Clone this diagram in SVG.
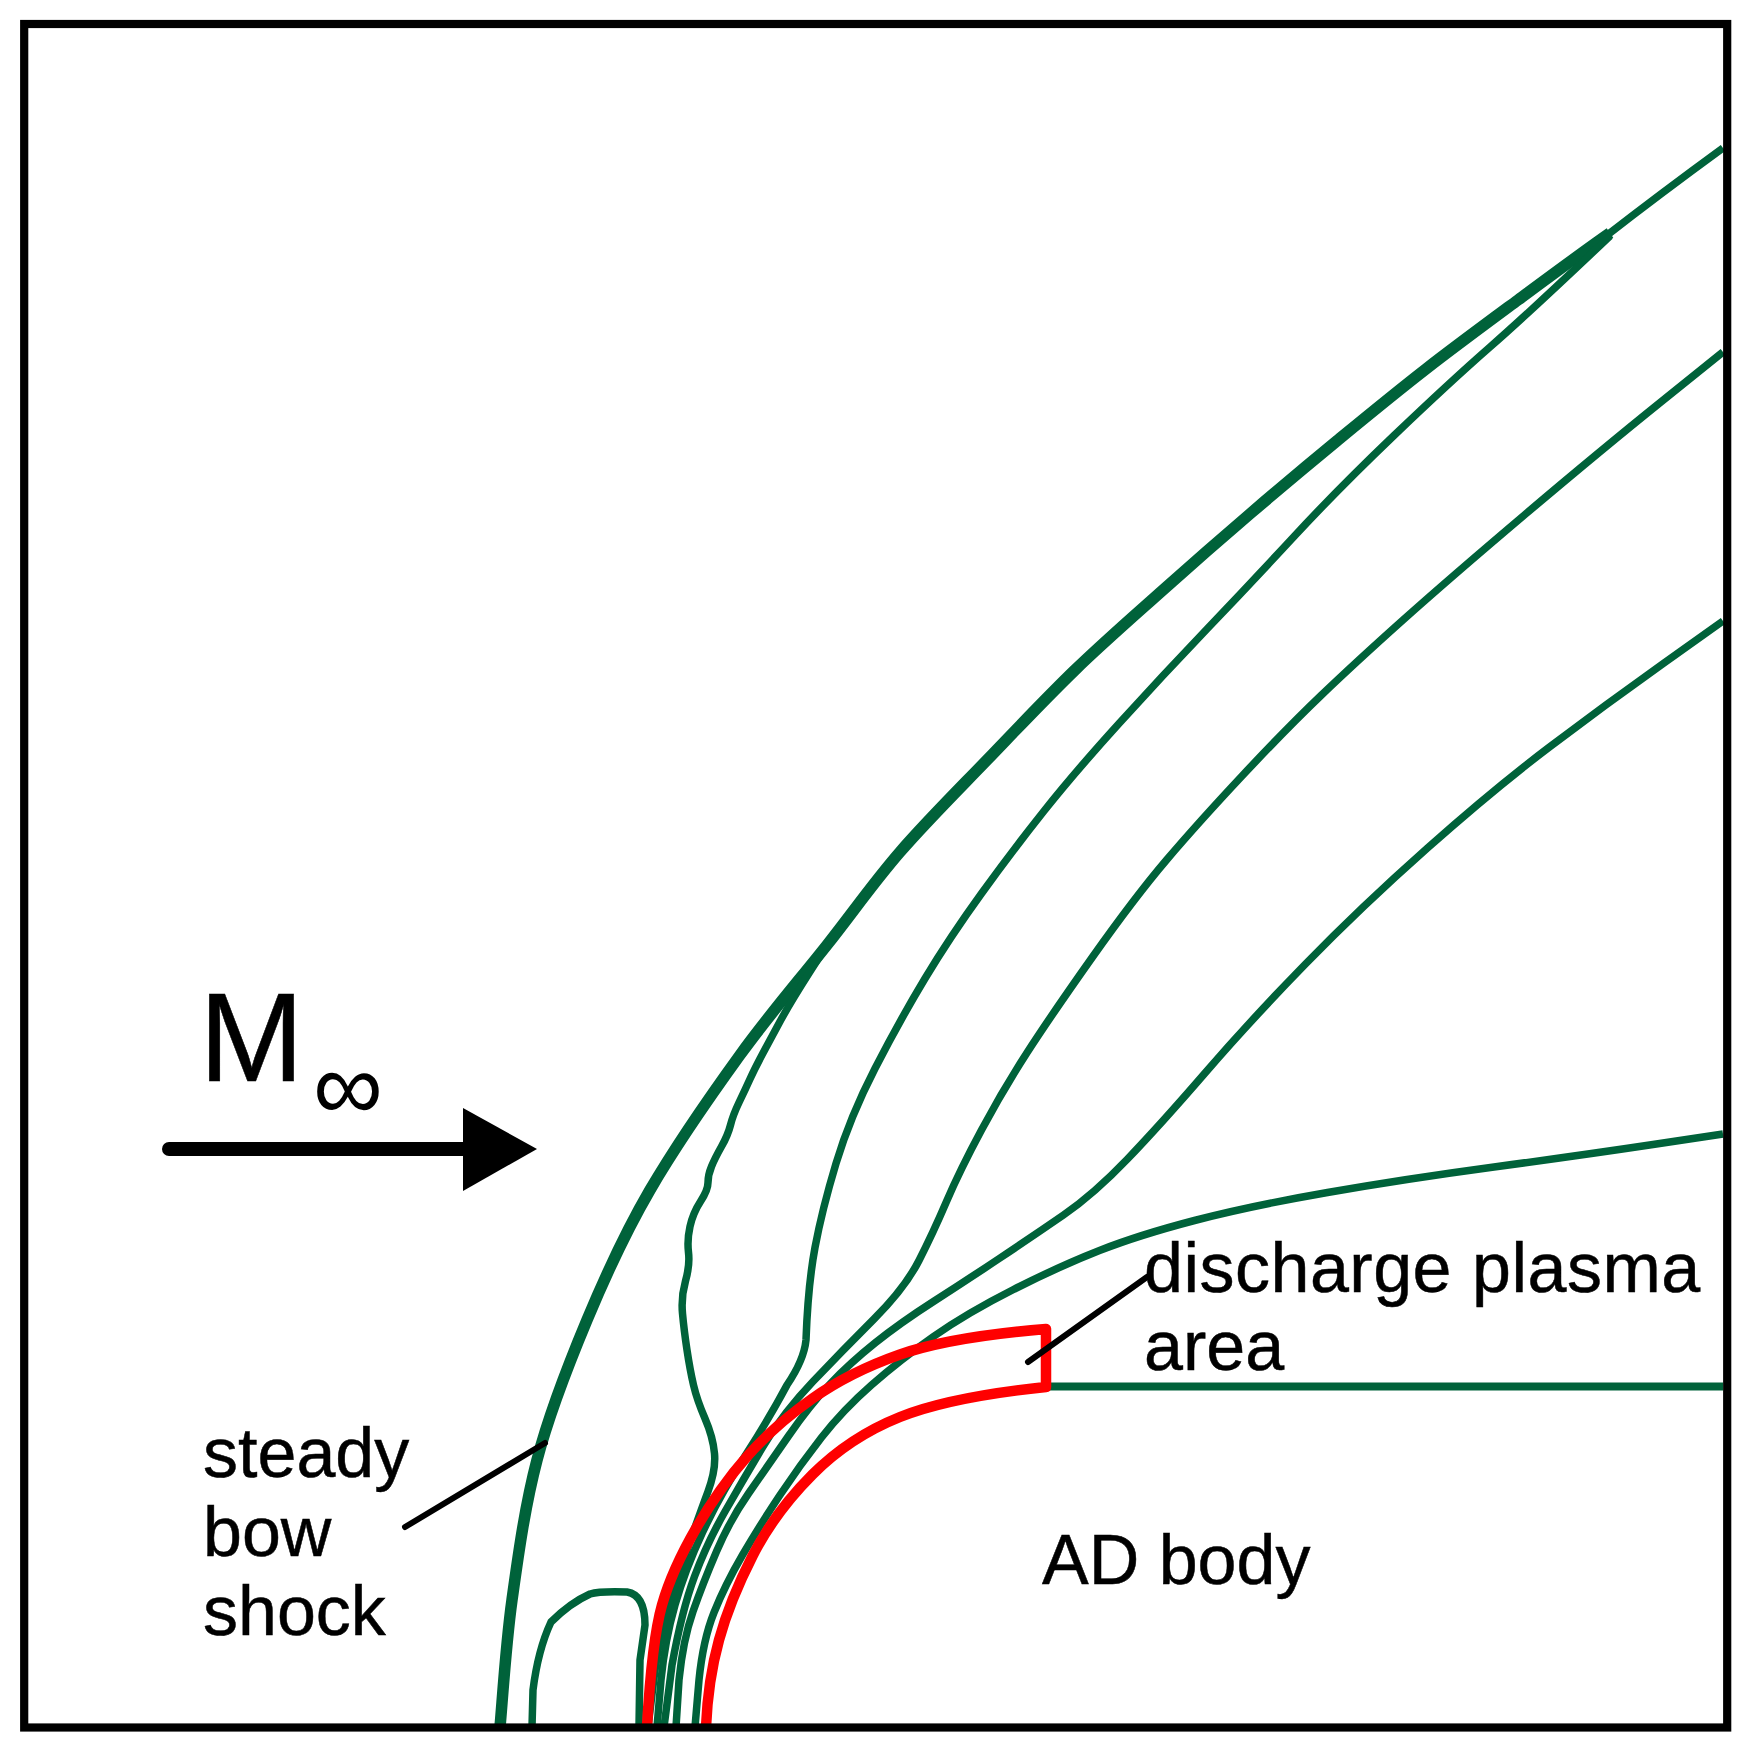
<svg xmlns="http://www.w3.org/2000/svg" width="1746" height="1753" viewBox="0 0 1746 1753">
<style>
.flow{fill:none;stroke:#00623a;stroke-width:7.5;stroke-linejoin:round}
.red{fill:none;stroke:#ff0000;stroke-width:10.5;stroke-linejoin:round}
.lead{fill:none;stroke:#000;stroke-width:6;stroke-linecap:round}
text{font-family:"Liberation Sans",Arial,sans-serif;fill:#000;stroke:#000;stroke-width:.5;font-size:70px}
</style>
<rect width="1746" height="1753" fill="#fff"/>
<g id="flow-lines">
<path id="shock" class="flow" style="stroke-width:11.5" d="M500,1727 C502,1706 505.8,1644.5 512,1600 C518.2,1555.5 524.8,1506.7 537,1460 C549.2,1413.3 568.2,1365 587,1320 C605.8,1275 624.2,1234.2 650,1190 C675.8,1145.8 710.5,1095.8 740,1055 C769.5,1014.2 800.3,978.8 827,945 C853.7,911.2 873.3,882.8 900,852 C926.7,821.2 957.8,790.3 987,760 C1016.2,729.7 1045.7,698.3 1075,670 C1104.3,641.7 1133.7,616.2 1163,590 C1192.3,563.8 1221.8,538 1251,513 C1280.2,488 1308.8,464 1338,440 C1367.2,416 1396,392.3 1426,369 C1456,345.7 1487.3,322.7 1518,300 C1548.7,277.3 1580,254 1610,233"/>
<path id="shock-end" class="flow" d="M1606,236 Q1660,194 1723,148"/>
<path id="line-a" class="flow" d="M1610,236 Q1530,312 1490,347 Q1450,382 1394,435.5 Q1338,489 1294.5,536 Q1251,583 1207,629 Q1163,675 1119,723.5 Q1075,772 1044,811 Q1013,850 981.5,893.5 Q950,937 925,978.5 Q900,1020 875,1068.5 Q850,1117 836,1163.5 Q822,1210 815,1247.5 Q808,1285 806,1340 Q804,1360 787,1385 Q770,1417 745,1456 Q720,1495 702.5,1532.5 Q685,1570 675,1605 Q665,1640 661,1680 L657,1727"/>
<path id="line-b" class="flow" d="M1723,352 L1661.5,401.5 Q1600,451 1525,514.5 Q1450,578 1403,620 Q1356,662 1321,695.5 Q1286,729 1242,776 Q1198,823 1166.5,860 Q1135,897 1092.5,957 Q1050,1017 1026.5,1053.5 Q1003,1090 981.5,1130 Q960,1170 946.5,1201.5 Q933,1233 919,1260.5 Q905,1288 874,1319 Q843,1350 813,1381.5 Q783,1413 763,1446.5 Q743,1480 725,1511.5 Q707,1543 694.5,1576.5 Q682,1610 672,1665 L664,1727"/>
<path id="line-c" class="flow" d="M1723,621 L1664,663 Q1605,705 1549.5,747 Q1494,789 1427.5,848 Q1361,907 1305.5,964 Q1250,1021 1205.5,1072.5 Q1161,1124 1127.5,1159 Q1094,1194 1063.5,1215 Q1033,1236 1000,1258 Q967,1280 933.5,1301.5 Q900,1323 875,1343 Q850,1363 830,1384 Q810,1405 788.5,1436 Q767,1467 748.5,1493.5 Q730,1520 716.5,1551.5 Q703,1583 693,1611.5 Q683,1640 679,1680 L676,1727"/>
<path id="line-d" class="flow" d="M1723,1134 L1653,1144.5 Q1583,1155 1494,1167 Q1405,1179 1327.5,1192.5 Q1250,1206 1194.5,1220.5 Q1139,1235 1099.5,1250.5 Q1060,1266 1013.5,1289.5 Q967,1313 933.5,1336.5 Q900,1360 871.5,1385 Q843,1410 821.5,1437.5 Q800,1465 780,1495 Q760,1525 742.5,1555 Q725,1585 714,1612.5 Q703,1640 699,1680 L695,1727"/>
<path id="line-wiggly" class="flow" d="M827,945 L808.5,974 Q790,1003 780,1021.5 Q770,1040 762.5,1054 Q755,1068 750,1079 Q745,1090 739,1102.5 Q733,1115 730.5,1125 Q728,1135 721.5,1146.5 Q715,1158 711.5,1166.5 Q708,1175 708,1182.5 Q708,1190 700.5,1201.5 Q693,1213 690,1226.5 Q687,1240 688.5,1252.5 Q690,1265 685.5,1281 Q681,1297 682.5,1313.5 Q684,1330 687,1350 Q690,1370 693.5,1385 Q697,1400 705,1418.5 Q713,1437 714.5,1453.5 Q716,1470 708,1491.5 Q700,1513 690,1541.5 Q680,1570 670,1600 Q660,1630 654,1678 L648,1727"/>
<path id="loop" class="flow" d="M532,1727 L533,1690 Q538,1650 551,1622 Q570,1603 590,1594 Q600,1591 627,1592 Q645,1595 645,1625 L640,1660 L639,1727"/>
<line id="axis" class="flow" style="stroke-width:8" x1="1046" y1="1386.5" x2="1723" y2="1386.5"/>
</g>
<g id="plasma-area">
<path class="red" d="M647,1727 Q652,1640 662,1605 Q672,1570 696,1528.5 Q720,1487 747.5,1456 Q775,1425 812.5,1398.5 Q850,1372 900,1354.5 Q950,1337 1046,1329 L1046,1387 Q950,1397 900,1417 Q850,1437 812.5,1474.5 Q775,1512 752.5,1556 Q730,1600 719,1640 Q708,1680 706,1727"/>
</g>
<g id="leaders">
<line class="lead" x1="405" y1="1527" x2="545" y2="1443"/>
<line class="lead" x1="1028" y1="1362" x2="1147" y2="1277"/>
</g>
<g id="flow-arrow">
<line x1="169" y1="1149" x2="470" y2="1149" stroke="#000" stroke-width="14" stroke-linecap="round"/>
<polygon points="463,1108 463,1191 537,1149" fill="#000"/>
</g>
<g id="labels">
<text x="199" y="1081" style="font-size:126px">M</text>
<text x="313" y="1120" style="font-size:98px;stroke-width:0">∞</text>
<text x="203" y="1477">steady</text>
<text x="203" y="1556">bow</text>
<text x="203" y="1635">shock</text>
<text x="1144" y="1292" style="letter-spacing:.5px">discharge plasma</text>
<text x="1144" y="1370">area</text>
<text x="1042" y="1584">AD body</text>
</g>
<rect id="frame" x="24.2" y="24" width="1703" height="1703.5" fill="none" stroke="#000" stroke-width="8.2"/>
</svg>
